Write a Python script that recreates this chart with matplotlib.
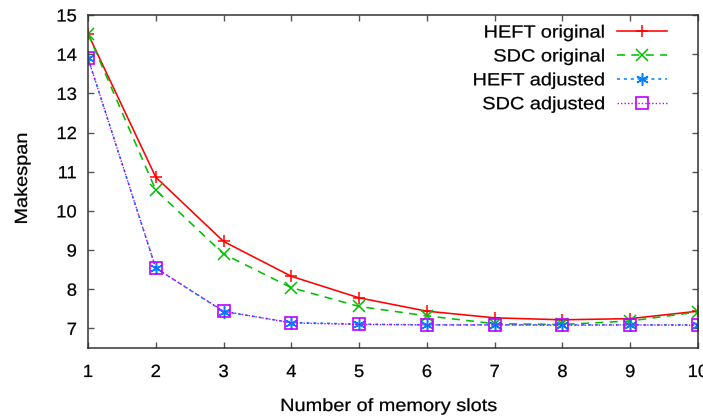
import matplotlib
matplotlib.use("Agg")
import matplotlib.pyplot as plt
from matplotlib.patheffects import AbstractPathEffect
from matplotlib.transforms import Affine2D

plt.rcParams['font.family'] = ['Liberation Sans', 'DejaVu Sans']

slots = [1, 2, 3, 4, 5, 6, 7, 8, 9, 10]
heft_original = [14.52, 10.86, 9.22, 8.33, 7.78, 7.44, 7.27, 7.22, 7.25, 7.44]
sdc_original = [14.52, 10.53, 8.90, 8.04, 7.56, 7.32, 7.12, 7.10, 7.19, 7.42]
heft_adjusted = [13.90, 8.54, 7.43, 7.15, 7.11, 7.09, 7.09, 7.09, 7.09, 7.09]
sdc_adjusted = [13.90, 8.54, 7.44, 7.14, 7.10, 7.09, 7.09, 7.08, 7.09, 7.08]
labels = ["HEFT original", "SDC original", "HEFT adjusted", "SDC adjusted"]
yticks = [7, 8, 9, 10, 11, 12, 13, 14, 15]


class Stretch(AbstractPathEffect):
    """Widen glyphs along the text direction (the reference font is wide)."""
    def __init__(self, sx=1.13, anchor='center', stroke=0.18):
        super().__init__()
        self.sx = sx
        self.anchor = anchor
        self.stroke = stroke

    def draw_path(self, renderer, gc, tpath, affine, rgbFace=None):
        ext = tpath.get_extents()
        if self.anchor == 'right':
            cx = ext.x1
        elif self.anchor == 'left':
            cx = ext.x0
        else:
            cx = 0.5 * (ext.x0 + ext.x1)
        t = Affine2D().translate(-cx, 0).scale(self.sx, 1).translate(cx, 0) + affine
        gc0 = renderer.new_gc()
        gc0.copy_properties(gc)
        if rgbFace is not None and self.stroke > 0:
            gc0.set_foreground(rgbFace)
            gc0.set_linewidth(self.stroke)
        renderer.draw_path(gc0, tpath, t, rgbFace)
        gc0.restore()


FS = 12.7
SX_T = 1.13
SX_D = 1.04

fig = plt.figure(figsize=(7.03, 4.19), dpi=100)
ax = fig.add_axes([88 / 703, (419 - 348) / 419, 610 / 703, 333 / 419])

ax.plot(slots, heft_original, color='#ff0000', lw=1.15, ls='-', marker='+', ms=9, mew=1.1, label=labels[0])
ax.plot(slots, sdc_original, color='#00c000', lw=1.15, ls=(0, (5, 4)), marker='x', ms=8.3, mew=1.1, label=labels[1])
ax.plot(slots, heft_adjusted, color='#0080ff', lw=1.1, ls=(0, (2, 2.5)), marker=(6, 2, 0), ms=9, mew=1.1, label=labels[2])
ax.plot(slots, sdc_adjusted, color='#c000ff', lw=1.0, ls=(0, (1, 1.5)), marker='s', ms=8, mew=1.2, mfc='none', label=labels[3])

ax.set_xlim(1, 10)
ax.set_ylim(6.5, 15)
ax.set_xticks(slots)
ax.set_yticks(yticks)
ax.tick_params(direction='in', top=True, right=True, length=4, width=1, color='#555555', labelsize=FS)
ax.tick_params(axis='x', pad=11.5)
ax.tick_params(axis='y', pad=8)
for s in ax.spines.values():
    s.set_color('#333333')
    s.set_linewidth(1.1)

for lab in ax.get_xticklabels():
    lab.set_path_effects([Stretch(SX_D, 'center')])
for lab in ax.get_yticklabels():
    lab.set_path_effects([Stretch(SX_D, 'right')])

ax.set_xlabel("Number of memory slots", fontsize=FS, path_effects=[Stretch(SX_T, 'center')])
ax.xaxis.label.set_va('baseline')
ax.xaxis.set_label_coords(0.4926, (348 - 411) / 333)
ax.set_ylabel("Makespan", fontsize=FS, path_effects=[Stretch(SX_T, 'center')])
ax.yaxis.label.set_va('baseline')
ax.yaxis.set_label_coords((27 - 88) / 610, 0.509)

leg = ax.legend(loc='upper right', bbox_to_anchor=(0.9607, 0.9925), frameon=False, markerfirst=False,
                fontsize=FS, handlelength=2.84, labelspacing=0.39, borderaxespad=0.0,
                handletextpad=0.68, borderpad=0.4)
for t in leg.get_texts():
    t.set_path_effects([Stretch(SX_T, 'right')])

fig.savefig("out.png", dpi=100)
